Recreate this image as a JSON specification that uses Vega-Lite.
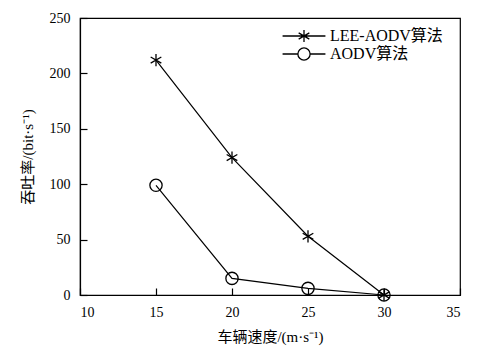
{
  "$schema": "https://vega.github.io/schema/vega-lite/v6.json",
  "width": 380,
  "height": 277,
  "autosize": {"type": "none"},
  "padding": {"left": 80, "top": 18, "right": 18, "bottom": 55},
  "background": "white",
  "config": {
    "view": {"stroke": "black", "strokeWidth": 1.2}
  },
  "data": {"values": [
    {"speed": 15, "rate": 212, "series": "LEE-AODV算法"},
    {"speed": 20, "rate": 124, "series": "LEE-AODV算法"},
    {"speed": 25, "rate": 53, "series": "LEE-AODV算法"},
    {"speed": 30, "rate": 0, "series": "LEE-AODV算法"},
    {"speed": 15, "rate": 99, "series": "AODV算法"},
    {"speed": 20, "rate": 15, "series": "AODV算法"},
    {"speed": 25, "rate": 6, "series": "AODV算法"},
    {"speed": 30, "rate": 0, "series": "AODV算法"}
  ]},
  "encoding": {
    "x": {"field": "speed", "type": "quantitative",
      "scale": {"domain": [10, 35], "nice": false, "zero": false},
      "axis": {"values": [10, 15, 20, 25, 30, 35], "grid": false, "domainColor": "black", "domainWidth": 1.2,
        "tickSize": -7, "tickColor": "black", "tickWidth": 1.2, "labelPadding": 17,
        "labelFont": "Liberation Serif", "labelFontSize": 14, "labelColor": "black",
        "title": "车辆速度/(m·s⁻¹)", "titlePadding": 10,
        "titleFont": "Liberation Serif, Noto Sans CJK SC", "titleFontSize": 15, "titleFontWeight": "normal", "titleColor": "black"}},
    "y": {"field": "rate", "type": "quantitative",
      "scale": {"domain": [0, 250], "nice": false},
      "axis": {"values": [0, 50, 100, 150, 200, 250], "grid": false, "domainColor": "black", "domainWidth": 1.2,
        "tickSize": -7, "tickColor": "black", "tickWidth": 1.2, "labelPadding": 17,
        "labelFont": "Liberation Serif", "labelFontSize": 14, "labelColor": "black",
        "title": "吞吐率/(bit·s⁻¹)", "titlePadding": 14,
        "titleFont": "Liberation Serif, Noto Sans CJK SC", "titleFontSize": 15, "titleFontWeight": "normal", "titleColor": "black"}}
  },
  "layer": [
    {
      "mark": {"type": "line", "color": "black", "strokeWidth": 1.2},
      "encoding": {"detail": {"field": "series"}}
    },
    {
      "mark": {"type": "point", "filled": false, "stroke": "black", "strokeWidth": 1.3, "opacity": 1},
      "encoding": {
        "shape": {"field": "series", "type": "nominal",
          "scale": {"domain": ["LEE-AODV算法", "AODV算法"],
            "range": ["M0,-1L0,1M-0.87,-0.5L0.87,0.5M-0.87,0.5L0.87,-0.5", "circle"]},
          "legend": null},
        "size": {"value": 150}
      }
    },
    {
      "transform": [{"filter": "datum.rate < -1000"}],
      "mark": {"type": "point", "filled": false, "stroke": "black", "strokeWidth": 1.3, "opacity": 1},
      "encoding": {
        "shape": {"field": "series", "type": "nominal",
          "scale": {"domain": ["LEE-AODV算法", "AODV算法"],
            "range": ["M-3.5,0L3.5,0M0,-1L0,1M-0.87,-0.5L0.87,0.5M-0.87,0.5L0.87,-0.5", "M-3.5,0L-1,0M1,0L3.5,0M1,0A1,1,0,1,1,-1,0A1,1,0,1,1,1,0"]},
          "legend": {
            "title": null, "orient": "none", "legendX": 216, "legendY": 10,
            "labelFont": "Liberation Serif, Noto Sans CJK SC", "labelFontSize": 16, "labelColor": "black",
            "symbolSize": 150, "symbolStrokeWidth": 1.3, "symbolStrokeColor": "black", "symbolFillColor": "transparent",
            "labelOffset": 18, "rowPadding": 0
          }},
        "size": {"value": 150}
      }
    }
  ],
  "resolve": {"scale": {"shape": "independent"}, "legend": {"shape": "independent"}}
}
